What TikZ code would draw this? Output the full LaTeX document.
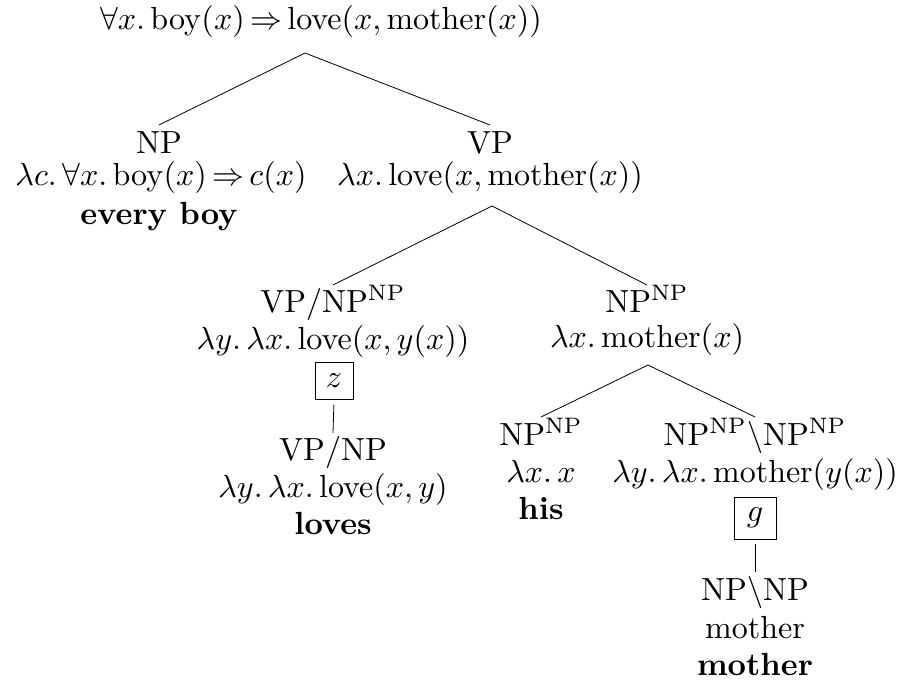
\documentclass[tikz,border=0pt]{standalone}
\newcommand{\impl}{\,{\Rightarrow}\,}
\begin{document}
\begin{tikzpicture}[x=1pt,y=-1pt,
  every node/.style={inner sep=0pt, anchor=base, scale=3.2, font=\fontsize{10}{12}\selectfont},
  branch/.style={line width=0.8pt},
  slot/.style={draw, line width=0.8pt, anchor=center, inner sep=0pt}]
\useasboundingbox (0,0) rectangle (903,680);

% root
\node (root) at (321,30) {$\forall x.\,\mathrm{boy}(x)\impl\mathrm{love}(x,\mathrm{mother}(x))$};
\coordinate (a0) at (305,53);

% subject
\node (npcat) at (159,153) {NP};
\node (npsem) at (161,185) {$\lambda c.\,\forall x.\,\mathrm{boy}(x)\impl c(x)$};
\node (npword) at (159,224) {\textbf{every boy}};

% verb phrase
\node (vpcat) at (490,153) {VP};
\node (vpsem) at (490,185) {$\lambda x.\,\mathrm{love}(x,\mathrm{mother}(x))$};
\coordinate (a1) at (492,206);

% lifted verb
\node (tvcat) at (333,312) {VP/NP$^{\mathrm{NP}}$};
\node (tvsem) at (333,349) {$\lambda y.\,\lambda x.\,\mathrm{love}(x,y(x))$};
\node[slot, minimum width=11.9pt, minimum height=11.6pt] (zbox) at (334,381) {$z$};
\node (vcat) at (333,460) {VP/NP};
\node (vsem) at (333,497) {$\lambda y.\,\lambda x.\,\mathrm{love}(x,y)$};
\node (vword) at (333,534) {\textbf{loves}};

% object
\node (objcat) at (647,312) {NP$^{\mathrm{NP}}$};
\node (objsem) at (647,347) {$\lambda x.\,\mathrm{mother}(x)$};
\coordinate (a2) at (648,365);

% possessive
\node (hiscat) at (541,445) {NP$^{\mathrm{NP}}$};
\node (hissem) at (541,482) {$\lambda x.\,x$};
\node (hisword) at (541,519) {\textbf{his}};

% lifted noun
\node (mcat) at (755,445) {NP$^{\mathrm{NP}}\backslash$NP$^{\mathrm{NP}}$};
\node (msem) at (755,482) {$\lambda y.\,\lambda x.\,\mathrm{mother}(y(x))$};
\node[slot, minimum width=13.1pt, minimum height=13.1pt] (gbox) at (755,518) {$g$};
\node (ncat) at (755,600) {NP$\backslash$NP};
\node (nsem) at (755,638) {mother};
\node (nword) at (755,675) {\textbf{mother}};

% branches
\draw[branch] ([yshift=28pt]npcat.base) -- (a0) -- ([yshift=28pt]vpcat.base);
\draw[branch] ([yshift=27pt]tvcat.base) -- (a1) -- ([yshift=27pt]objcat.base);
\draw[branch] ([yshift=28pt]hiscat.base) -- (a2) -- ([yshift=28pt]mcat.base);
\draw[branch, shorten <=4pt] (zbox.south) -- ([yshift=27pt]vcat.base);
\draw[branch, shorten <=4pt] (gbox.south) -- ([yshift=28pt]ncat.base);
\end{tikzpicture}
\end{document}
